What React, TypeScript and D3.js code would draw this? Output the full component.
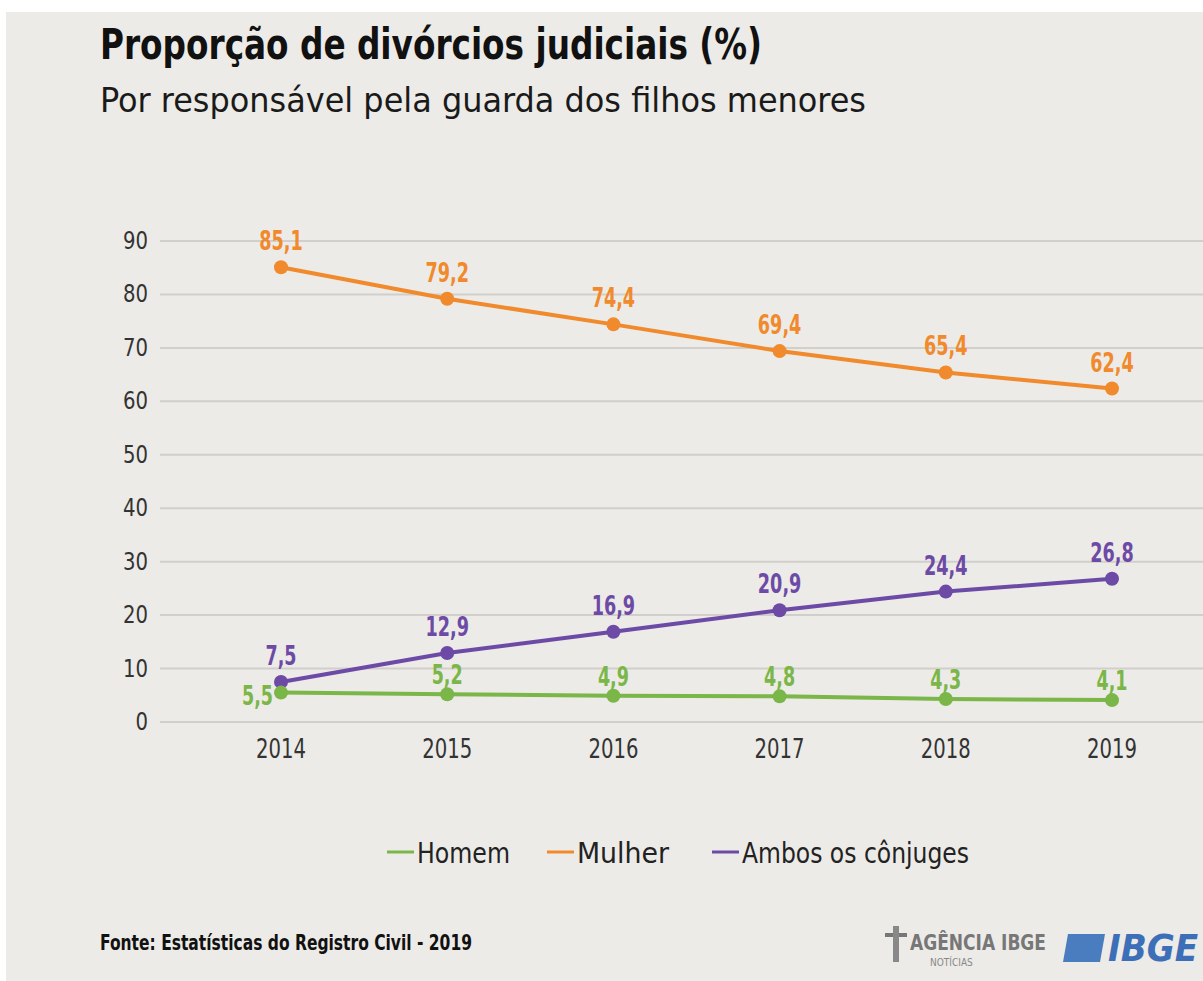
import React from "react";
import * as d3 from "d3";

const years = ["2014", "2015", "2016", "2017", "2018", "2019"];
const homem = [5.5, 5.2, 4.9, 4.8, 4.3, 4.1];
const mulher = [85.1, 79.2, 74.4, 69.4, 65.4, 62.4];
const ambos = [7.5, 12.9, 16.9, 20.9, 24.4, 26.8];
const yTicks = [0, 10, 20, 30, 40, 50, 60, 70, 80, 90];
const legendLabels = ["Homem", "Mulher", "Ambos os cônjuges"];

const COLORS = { homem: "#7ab648", mulher: "#f08a2c", ambos: "#6c4aa6" };
const FONT = "'Liberation Sans Narrow', 'DejaVu Sans Condensed', 'Roboto', sans-serif";

// approximate width of condensed numeric strings
const numW = (s: string, digit: number, comma: number) =>
  s.split("").reduce((a, c) => a + (c === "," ? comma : digit), 0);

export default function App() {
  const W = 1203, H = 981;
  const x = d3.scalePoint<string>().domain(years).range([281, 1112]);
  const y = d3.scaleLinear().domain([0, 90]).range([722, 241]);
  const line = d3.line<number>().x((_, i) => x(years[i])!).y((d) => y(d));
  const fmt = (v: number) => v.toFixed(1).replace(".", ",");

  const series = [
    { key: "mulher", data: mulher, color: COLORS.mulher },
    { key: "ambos", data: ambos, color: COLORS.ambos },
    { key: "homem", data: homem, color: COLORS.homem },
  ];

  const legend = [
    { label: legendLabels[0], color: COLORS.homem, x0: 387, w: 93 },
    { label: legendLabels[1], color: COLORS.mulher, x0: 547, w: 92 },
    { label: legendLabels[2], color: COLORS.ambos, x0: 712, w: 227 },
  ];

  return (
    <div style={{ position: "absolute", left: 0, top: 0 }}>
      <svg width={W} height={H} style={{ display: "block" }}>
        <rect x={0} y={0} width={W} height={H} fill="#ffffff" />
        <rect x={6} y={12} width={W - 6} height={H - 12} fill="#ecebe7" />
        <text x={100} y={59} fontFamily={FONT} fontWeight="bold" fontSize={42} fill="#111" textLength={662} lengthAdjust="spacingAndGlyphs">
          Proporção de divórcios judiciais (%)
        </text>
        <text x={100} y={112} fontFamily={FONT} fontSize={33} fill="#1a1a1a" textLength={766} lengthAdjust="spacingAndGlyphs">
          Por responsável pela guarda dos filhos menores
        </text>

        {yTicks.map((t) => (
          <g key={t}>
            <line x1={160} x2={W} y1={y(t)} y2={y(t)} stroke="#d2cfcb" strokeWidth={2} />
            <text x={148} y={y(t) + 8} textAnchor="end" fontFamily={FONT} fontSize={24} fill="#333"
              textLength={numW(String(t), 12.5, 6)} lengthAdjust="spacingAndGlyphs">
              {t}
            </text>
          </g>
        ))}

        {years.map((yr) => (
          <text key={yr} x={x(yr)} y={758} textAnchor="middle" fontFamily={FONT} fontSize={27} fill="#333"
            textLength={50} lengthAdjust="spacingAndGlyphs">
            {yr}
          </text>
        ))}

        {series.map((s) => (
          <g key={s.key}>
            <path d={line(s.data) || ""} fill="none" stroke={s.color} strokeWidth={4} />
            {s.data.map((v, i) => (
              <circle key={i} cx={x(years[i])} cy={y(v)} r={7} fill={s.color} />
            ))}
            {s.data.map((v, i) => {
              const isGreenFirst = s.key === "homem" && i === 0;
              const off = s.key === "homem" ? 10 : 17;
              const label = fmt(v);
              return (
                <text
                  key={"l" + i}
                  x={isGreenFirst ? x(years[i])! - 8 : x(years[i])}
                  y={isGreenFirst ? y(v) + 12 : y(v) - off}
                  textAnchor={isGreenFirst ? "end" : "middle"}
                  fontFamily={FONT}
                  fontWeight="bold"
                  fontSize={27}
                  fill={s.color}
                  textLength={numW(label, 12.5, 6)}
                  lengthAdjust="spacingAndGlyphs"
                >
                  {label}
                </text>
              );
            })}
          </g>
        ))}

        {legend.map((l) => (
          <g key={l.label}>
            <line x1={l.x0} x2={l.x0 + 27} y1={852} y2={852} stroke={l.color} strokeWidth={3} />
            <text x={l.x0 + 30} y={863} fontFamily={FONT} fontSize={28} fill="#222" textLength={l.w} lengthAdjust="spacingAndGlyphs">
              {l.label}
            </text>
          </g>
        ))}

        <text x={100} y={950} fontFamily={FONT} fontWeight="bold" fontSize={21} fill="#111" textLength={372} lengthAdjust="spacingAndGlyphs">
          Fonte: Estatísticas do Registro Civil - 2019
        </text>

        <g>
          <rect x={885} y={933} width={22} height={4} fill="#777" />
          <rect x={893} y={926} width={6} height={36} fill="#888" />
          <text x={910} y={950} fontFamily={FONT} fontWeight="bold" fontSize={21} fill="#777" textLength={136} lengthAdjust="spacingAndGlyphs">
            AGÊNCIA IBGE
          </text>
          <text x={930} y={966} fontFamily={FONT} fontSize={10} fill="#888">NOTÍCIAS</text>
          <path d="M1068,934 L1105,934 L1100,962 L1063,962 Z" fill="#4a7cc0" />
          <text x={1108} y={961} fontFamily={FONT} fontWeight="bold" fontStyle="italic" fontSize={38} fill="#3d6fb8">
            IBGE
          </text>
        </g>
      </svg>
    </div>
  );
}
